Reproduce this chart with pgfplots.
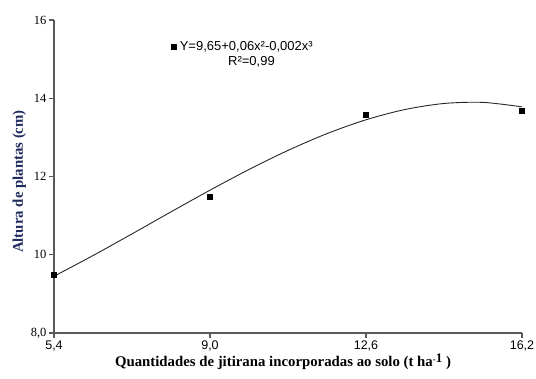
\documentclass[border=0pt]{standalone}
\usepackage{fontspec}
\setmainfont{Liberation Serif}
\newfontfamily\arialf{Liberation Sans}
\usepackage{pgfplots}
\pgfplotsset{compat=1.18}
\usetikzlibrary{calc}
\definecolor{navy}{HTML}{1F2A5C}
\definecolor{axgray}{HTML}{5A5A5A}
\begin{document}
\begin{tikzpicture}
\begin{axis}[
  scale only axis,
  width=468pt, height=313pt,
  xmin=5.4, xmax=16.2, ymin=8, ymax=16,
  axis lines*=left,
  axis line style={axgray, line width=1.1pt},
  tick style={axgray, line width=1.1pt},
  tick align=outside, major tick length=5pt,
  xtick={5.4,9.0,12.6,16.2},
  xticklabels={{5,4},{9,0},{12,6},{16,2}},
  ytick={8,10,12,14,16},
  yticklabels={{8,0},{10},{12},{14},{16}},
  xticklabel style={font=\arialf\fontsize{12.5}{14}\selectfont, yshift=1pt},
  yticklabel style={font=\fontsize{12.5}{14}\selectfont, xshift=1pt},
  xlabel={\textbf{Quantidades de jitirana incorporadas ao solo (t ha\raisebox{0.6ex}{\fontsize{9}{10}\selectfont -}\raisebox{0.65ex}{\fontsize{13}{14}\selectfont 1} )}},
  ylabel={\textcolor{navy}{\textbf{Altura de plantas (cm)}}},
  xlabel style={font=\fontsize{14.8}{16}\selectfont, yshift=4pt, xshift=-5pt},
  ylabel style={font=\fontsize{14.8}{16}\selectfont, yshift=-2pt, xshift=-5pt},
  legend style={draw=none, fill=none, at={(0.247,0.915)}, anchor=west,
    font=\arialf\fontsize{13}{15}\selectfont, inner sep=1pt},
  legend cell align=left,
  clip=false,
]
\addplot[only marks, mark=square*, mark size=2.5pt, black] coordinates {
  (5.4,9.48) (9.0,11.49) (12.6,13.57) (16.2,13.69)
};
\addlegendentry{\hspace{2pt}Y=9,65+0,06x²-0,002x³}
\addplot[smooth, black!85, line width=0.9pt, forget plot] coordinates {
  (5.4,9.45) (6.3,9.979) (7.2,10.533) (8.1,11.096) (9.0,11.65)
  (9.9,12.179) (10.8,12.667) (11.7,13.096) (12.6,13.45)
  (13.5,13.712) (14.4,13.866) (15.3,13.894) (16.2,13.78)
};
\node[font=\arialf\fontsize{13}{15}\selectfont] at (rel axis cs:0.422,0.865) {R²=0,99};
\end{axis}
\pgfresetboundingbox
\path ($(current axis.south west)+(-54pt,-46pt)$) rectangle ($(current axis.north east)+(14pt,20pt)$);
\end{tikzpicture}
\end{document}
